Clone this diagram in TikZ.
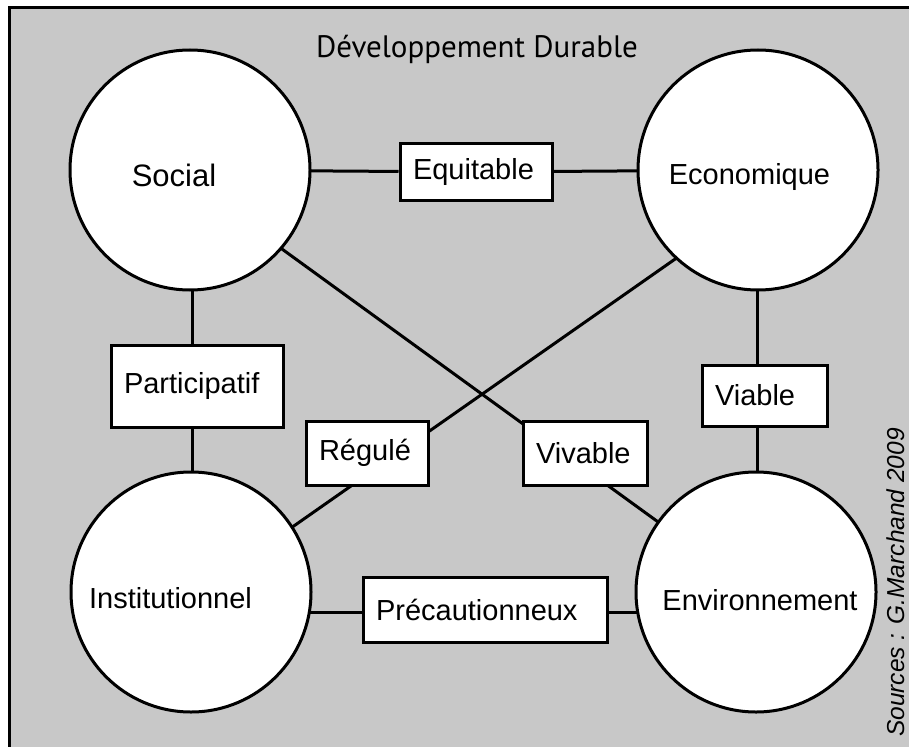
\documentclass[tikz,border=0pt]{standalone}
\usepackage{fontspec}
\setmainfont{Liberation Sans}
\newfontfamily\titlefont{PT Sans}
\usetikzlibrary{calc}
\definecolor{bggray}{RGB}{200,200,200}
\pgfdeclarelayer{bg}
\pgfdeclarelayer{lines}
\pgfsetlayers{bg,lines,main}
\begin{document}
\begin{tikzpicture}[x=1pt,y=-1pt,
  circ/.style={circle,draw=black,fill=white,line width=3pt,minimum size=240pt,inner sep=0pt},
  lbl/.style={anchor=base,inner sep=0pt,font=\fontsize{29}{34}\selectfont},
  boxnode/.style 2 args={draw=black,fill=white,line width=3pt,
     minimum height=#2pt,text width=#1pt-26pt,inner xsep=13pt,inner ysep=0pt,align=left,
     font=\fontsize{29}{34}\selectfont},
  conn/.style={line width=3pt,draw=black}]
\useasboundingbox (0,0) rectangle (909,746);
\begin{scope}
\clip (0,0) rectangle (909,746);
% circles
\node[circ] (social) at (190,170) {};
\node[circ] (econ) at (758,170) {};
\node[circ] (inst) at (191,592) {};
\node[circ] (env) at (756,592) {};
\node[lbl,font=\fontsize{31}{36}\selectfont] (tsocial) at (174,186) {Social};
\node[lbl] (tecon) at (749.5,185) {Economique};
\node[lbl] (tinst) at (170.5,608) {Institutionnel};
\node[lbl] (tenv) at (760,610) {Environnement};
% boxes
\node[boxnode={152}{57}] (equi) at (476,172) {Equitable};
\node[boxnode={172}{82}] (part) at (197,386) {Participatif};
\node[boxnode={125}{61}] (viab) at (764.5,395.5) {Viable};
\node[boxnode={122}{64}] (regu) at (367,453) {Régulé};
\node[boxnode={124}{64}] (viva) at (585,453) {Vivable};
\node[boxnode={244}{65}] (prec) at (485,609.5) {Précautionneux};
% title and source
\node[anchor=base,inner sep=0pt,font=\titlefont\fontsize{31}{36}\selectfont] (title) at (477,58) {Développement Durable};
\node[rotate=90,anchor=base,inner sep=0pt,font=\itshape\fontsize{24.5}{28}\selectfont] (src) at (904,582.5) {Sources : G.Marchand 2009};
% background
\begin{pgfonlayer}{bg}
\fill[bggray] (9.5,8) rectangle (930,760);
\draw[line width=3pt] (9.5,760) -- (9.5,8) -- (930,8);
\end{pgfonlayer}
% connectors
\begin{pgfonlayer}{lines}
\draw[conn] (social.center) -- (equi) -- (econ.center);
\draw[conn] ($(social.center)+(2,0)$) -- ($(inst.center)+(1,0)$);
\draw[conn] ($(econ.center)+(-1,0)$) -- ($(env.center)+(1,0)$);
\draw[conn] ($(inst.center)+(0,20)$) -- ($(env.center)+(0,20)$);
\draw[conn] ($(social.center)+(1,13)$) -- ($(env.center)+(0,1)$);
\draw[conn] ($(econ.center)+(0,31)$) -- ($(inst.center)+(0,6)$);
\end{pgfonlayer}
\end{scope}
\end{tikzpicture}
\end{document}
